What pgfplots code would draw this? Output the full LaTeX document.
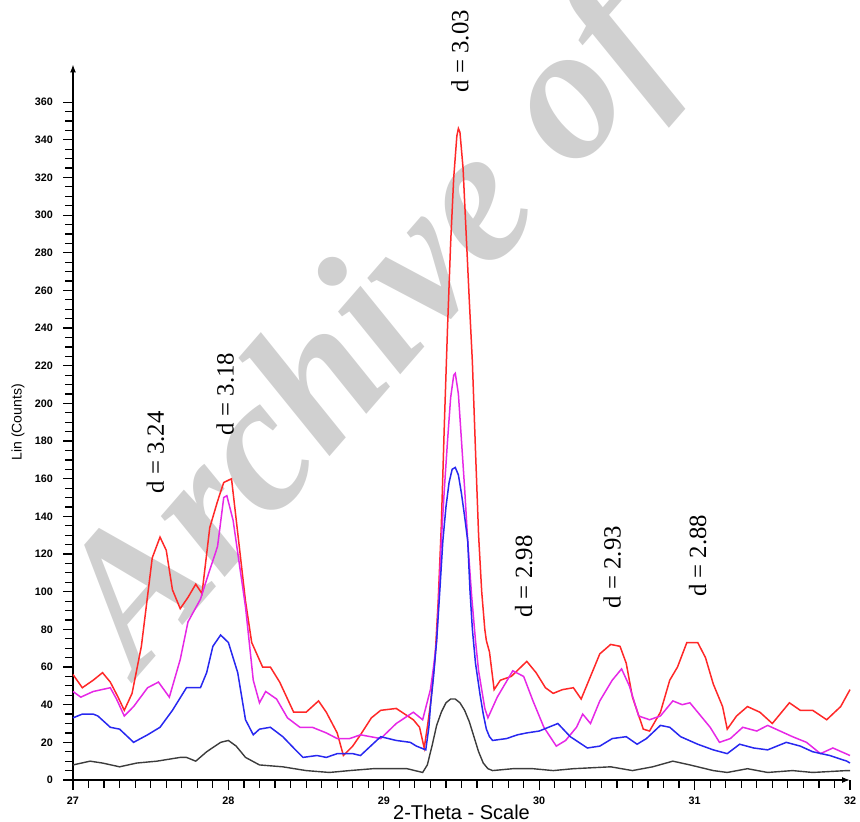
\documentclass[border=0pt]{standalone}
\usepackage{fontspec}
\setmainfont{Liberation Serif}
\setsansfont{Liberation Sans}
\usepackage{pgfplots}
\pgfplotsset{compat=1.18}
\usetikzlibrary{arrows.meta}
\definecolor{cred}{RGB}{255,40,40}
\definecolor{cmag}{RGB}{230,40,230}
\definecolor{cblue}{RGB}{40,40,240}
\definecolor{cblack}{RGB}{60,60,60}
\definecolor{wm}{RGB}{208,208,208}
\begin{document}
\begin{tikzpicture}
\useasboundingbox (0,0) rectangle (430pt,411pt);
\clip (0,0) rectangle (430pt,411pt);
\node[rotate=49, text=wm, font=\fontsize{96}{96}\selectfont\bfseries\itshape, inner sep=0] at (187pt,244pt) {Archive of};
\begin{axis}[
  at={(36.5pt,21pt)}, anchor=south west,
  scale only axis, width=388.5pt, height=357.75pt,
  xmin=27, xmax=32, ymin=0, ymax=380,
  axis lines=left,
  axis line style={line width=0.6pt, -{Latex[length=4pt,width=3pt]}},
  clip=false,
  xtick={27,28,29,30,31,32}, minor x tick num=9,
  ytick={0,20,...,360}, minor y tick num=3,
  tick align=outside,
  major tick length=5pt, minor tick length=4pt,
  tick style={line width=0.6pt, black},
  /pgf/number format/assume math mode=true,
  tick label style={font=\sffamily\bfseries\fontsize{5.4}{6}\selectfont},
  yticklabel style={xshift=-1.5pt},
  xlabel={2-Theta - Scale},
  xlabel style={font=\sffamily\fontsize{10}{12}\selectfont, at={(axis description cs:0.5,0)}, anchor=center, yshift=-16pt},
]
\addplot[cred, line width=0.75pt] coordinates {
(27.00,56)(27.06,49)(27.13,53)(27.19,57)(27.24,52)(27.29,44)(27.33,37)(27.38,46)(27.44,71)(27.51,118)
(27.56,129)(27.60,122)(27.64,101)(27.69,91)(27.74,97)(27.79,104)(27.83,99)(27.88,134)(27.93,148)(27.97,158)
(28.02,160)(28.07,124)(28.11,95)(28.15,73)(28.22,60)(28.27,60)(28.33,52)(28.42,36)(28.50,36)(28.58,42)
(28.63,36)(28.70,25)(28.74,13)(28.80,18)(28.85,24)(28.92,33)(28.98,37)(29.08,38)(29.19,32)(29.23,28)
(29.26,17)(29.28,28)(29.30,40)(29.33,65)(29.35,95)(29.37,135)(29.39,190)(29.41,240)(29.43,285)(29.45,320)
(29.47,342)(29.48,346)(29.49,344)(29.51,325)(29.53,290)(29.55,255)(29.57,222)(29.59,175)(29.61,130)(29.63,100)
(29.65,80)(29.66,74)(29.68,68)(29.71,48)(29.75,53)(29.82,55)(29.92,63)(29.98,57)(30.04,49)
(30.09,46)(30.15,48)(30.22,49)(30.27,43)(30.33,55)(30.39,67)(30.46,72)(30.52,71)(30.56,62)(30.60,44)
(30.67,27)(30.71,26)(30.78,36)(30.84,53)(30.89,60)(30.95,73)(31.02,73)(31.07,65)(31.12,51)(31.18,39)
(31.21,27)(31.27,34)(31.34,39)(31.42,36)(31.50,30)(31.61,41)(31.68,37)(31.76,37)(31.85,32)(31.94,39)(32.00,48)
};
\addplot[cmag, line width=0.75pt] coordinates {
(27.00,47)(27.05,44)(27.13,47)(27.24,49)(27.28,43)(27.33,34)(27.39,39)(27.48,49)(27.55,52)(27.62,44)
(27.69,64)(27.74,84)(27.82,96)(27.87,109)(27.93,124)(27.97,150)(27.99,151)(28.03,138)(28.11,92)(28.16,53)
(28.20,41)(28.24,47)(28.31,43)(28.38,33)(28.46,28)(28.54,28)(28.63,25)(28.70,22)(28.78,22)(28.85,24)
(28.98,22)(29.08,30)(29.19,36)(29.25,32)(29.30,48)(29.32,60)(29.34,74)(29.355,98)(29.37,127)(29.39,155)
(29.41,180)(29.43,203)(29.45,215)(29.46,216)(29.48,205)(29.50,180)(29.52,155)(29.54,127)(29.565,98)(29.59,74)
(29.61,58)(29.63,48)(29.65,38)(29.67,33)(29.73,44)(29.83,58)(29.90,55)(29.96,42)(30.03,28)(30.11,18)
(30.17,21)(30.24,28)(30.28,35)(30.33,30)(30.39,42)(30.47,53)(30.53,59)(30.58,50)(30.64,34)(30.71,32)
(30.78,34)(30.86,42)(30.92,40)(30.97,41)(31.03,35)(31.10,28)(31.16,20)(31.23,22)(31.31,28)(31.40,26)
(31.47,29)(31.55,26)(31.63,23)(31.72,20)(31.81,14)(31.89,17)(32.00,13)
};
\addplot[cblue, line width=0.75pt] coordinates {
(27.00,33)(27.06,35)(27.13,35)(27.16,34)(27.24,28)(27.30,27)(27.39,20)(27.48,24)(27.56,28)(27.64,37)
(27.73,49)(27.82,49)(27.86,57)(27.90,71)(27.95,77)(28.00,73)(28.06,57)(28.11,32)(28.16,24)(28.20,27)
(28.27,28)(28.35,23)(28.42,17)(28.48,12)(28.57,13)(28.63,12)(28.70,14)(28.80,14)(28.85,13)(28.98,23)
(29.08,21)(29.17,20)(29.21,18)(29.27,16)(29.29,28)(29.30,39)(29.32,55)(29.34,74)(29.36,100)(29.38,127)
(29.40,145)(29.42,158)(29.44,165)(29.46,166)(29.48,162)(29.50,152)(29.52,140)(29.54,127)(29.555,100)(29.57,80)
(29.59,62)(29.62,45)(29.64,35)(29.66,27)(29.68,23)(29.70,21)(29.79,22)(29.86,24)(29.92,25)(30.00,26)
(30.12,30)(30.20,23)(30.31,17)(30.39,18)(30.47,22)(30.56,23)(30.63,19)(30.69,22)(30.78,29)(30.84,28)
(30.91,23)(31.02,19)(31.12,16)(31.21,14)(31.29,19)(31.38,17)(31.47,16)(31.59,20)(31.68,18)(31.76,15)
(31.87,13)(31.98,10)(32.00,9)
};
\addplot[cblack, line width=0.7pt] coordinates {
(27.00,8)(27.11,10)(27.19,9)(27.30,7)(27.41,9)(27.54,10)(27.69,12)(27.73,12)(27.79,10)(27.86,15)
(27.95,20)(28.00,21)(28.05,18)(28.11,12)(28.20,8)(28.35,7)(28.50,5)(28.65,4)(28.78,5)(28.93,6)
(29.06,6)(29.15,6)(29.25,4)(29.28,8)(29.31,18)(29.34,29)(29.37,36)(29.40,41)(29.43,43)(29.46,43)
(29.49,41)(29.52,37)(29.55,31)(29.58,23)(29.61,15)(29.64,9)(29.67,6)(29.70,5)(29.83,6)(29.96,6)
(30.09,5)(30.22,6)(30.46,7)(30.60,5)(30.73,7)(30.86,10)(30.97,8)
(31.12,5)(31.21,4)(31.34,6)(31.47,4)(31.63,5)(31.76,4)(31.98,5)(32.00,5)
};
\node[rotate=90, inner sep=0pt, font=\sffamily\fontsize{7}{8}\selectfont] at ([xshift=-27.5pt]axis description cs:0,0.5) {Lin (Counts)};
\begin{scope}[every node/.style={rotate=90, anchor=west, inner sep=0pt, font=\fontsize{12.4}{14}\selectfont}]
\node at (axis cs:29.49,365) {d = 3.03};
\node at (axis cs:27.53,152) {d = 3.24};
\node at (axis cs:27.98,183) {d = 3.18};
\node at (axis cs:29.90,86) {d = 2.98};
\node at (axis cs:30.47,91) {d = 2.93};
\node at (axis cs:31.02,97) {d = 2.88};
\end{scope}
\end{axis}
\end{tikzpicture}
\end{document}
